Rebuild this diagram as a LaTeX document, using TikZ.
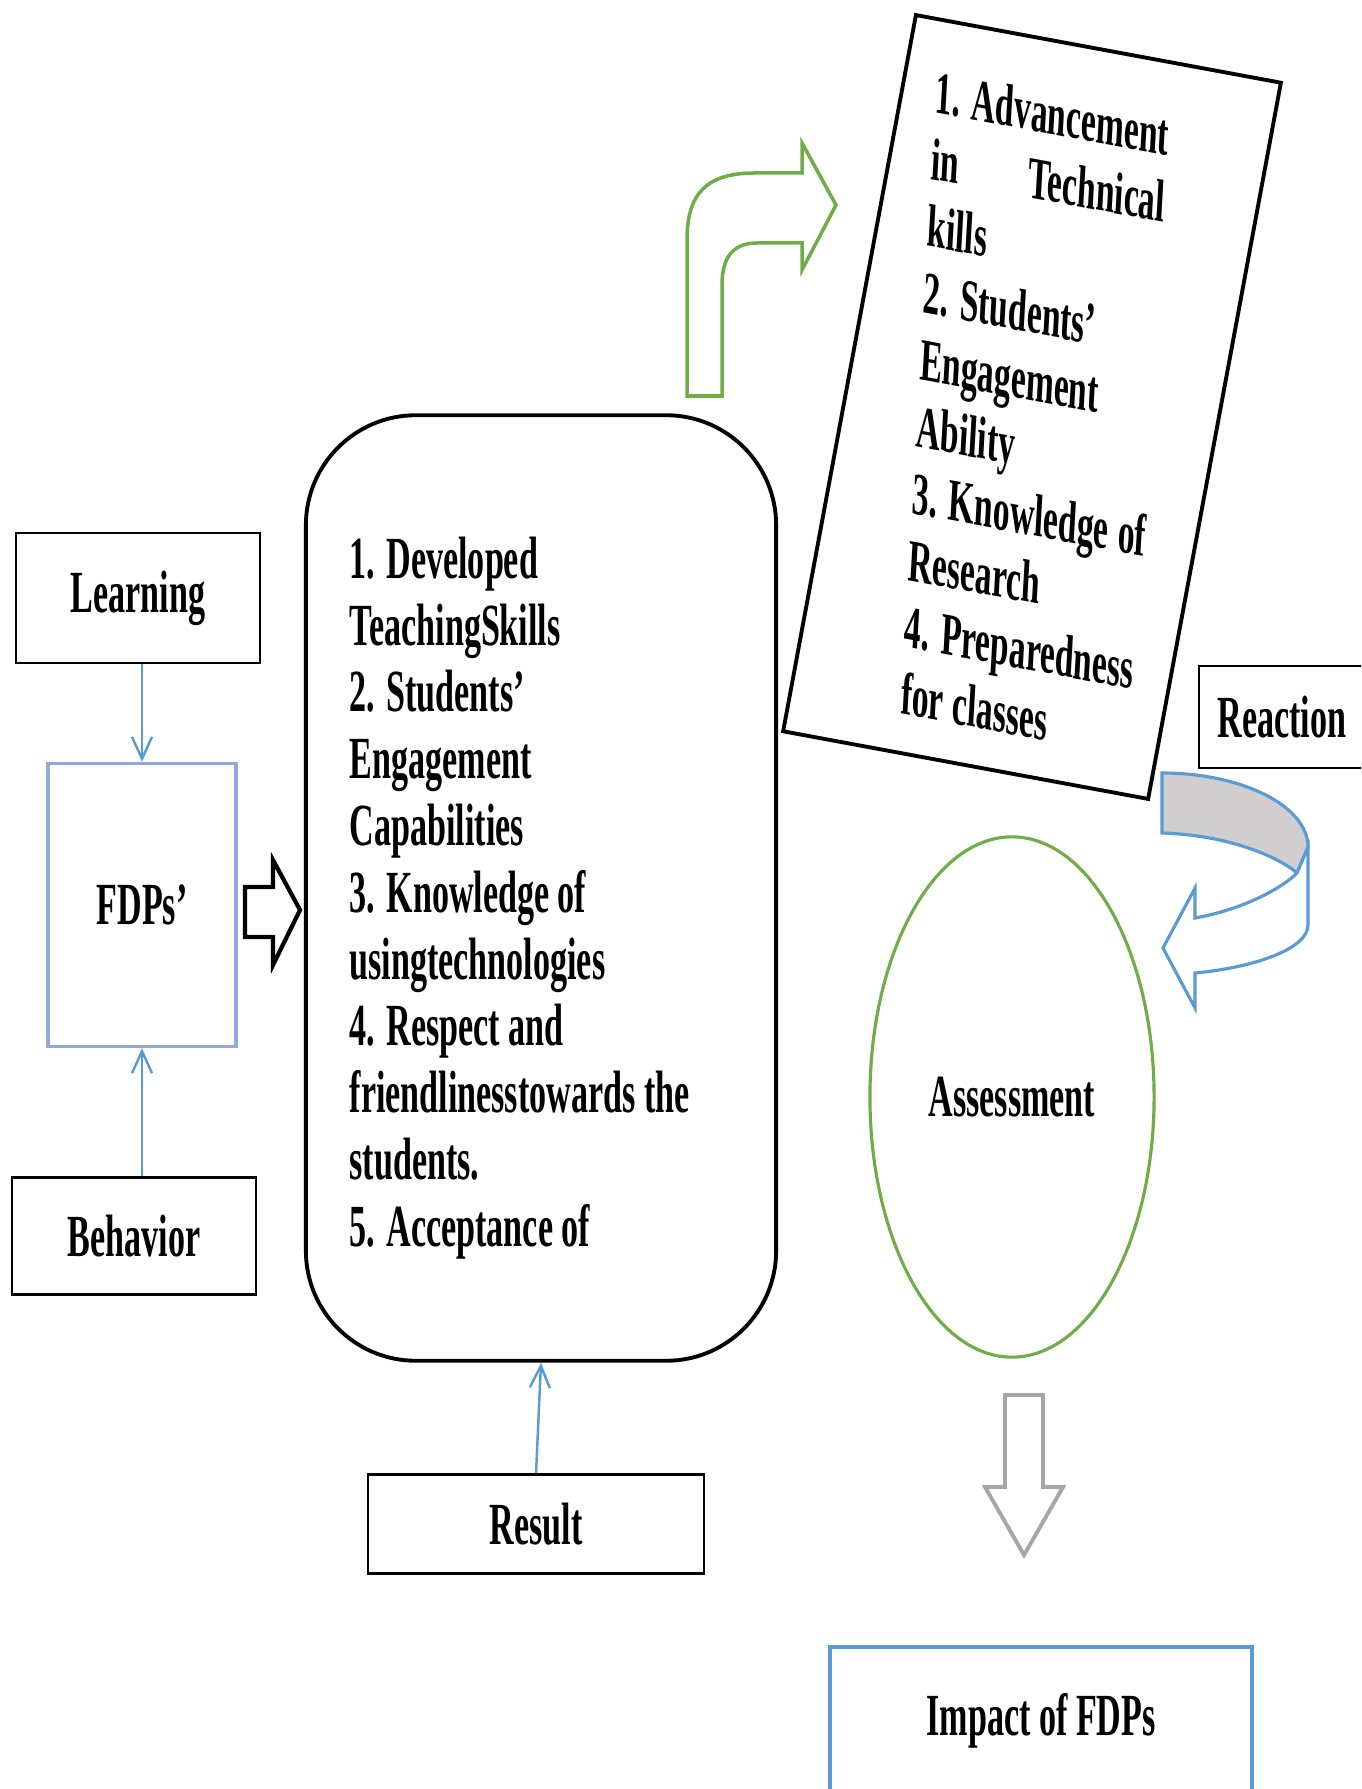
\documentclass[tikz,border=0pt]{standalone}
\usepackage{fontspec}
\setmainfont{Liberation Serif}[FakeStretch=0.57,BoldFont={Liberation Serif Bold}]
\usepackage{tikz}
\usetikzlibrary{arrows.meta,shapes.geometric}
\definecolor{lineblue}{RGB}{91,155,213}
\definecolor{boxblue}{RGB}{142,170,219}
\definecolor{arrgreen}{RGB}{112,173,71}
\definecolor{arrgray}{RGB}{166,166,166}
\definecolor{bandgray}{RGB}{208,206,206}
\newlength\gainwd

\begin{document}
\begin{tikzpicture}[x=0.01cm,y=-0.01cm,
  every node/.style={font=\fontsize{17}{19}\selectfont\bfseries},
  blk/.style={draw,line width=0.6pt,inner sep=0pt},
  conn/.style={draw=lineblue,line width=0.7pt,-{Straight Barb[length=2.2mm,width=2mm]}}]
\useasboundingbox (0,0) rectangle (1361,1789);
\clip (0,0) rectangle (1361,1789);

\node[blk,minimum width=2.44cm,minimum height=1.3cm] (learn) at (138,598) {Learning};
\node[blk,draw=boxblue,line width=0.9pt,minimum width=1.88cm,minimum height=2.83cm] (fdp) at (142,905) {FDPs’};
\node[blk,minimum width=2.44cm,minimum height=1.17cm] (beh) at (134,1236) {Behavior};
\draw[conn] (learn.south -| fdp.north) -- (fdp.north);
\draw[conn] (beh.north -| fdp.south) -- (fdp.south);

\draw[line width=1.2pt,fill=white] (245,887) -- (273,887) -- (273,860) -- (300,910)
  -- (273,965) -- (273,937) -- (245,937) -- cycle;

\node[draw,line width=1.1pt,rounded corners=1.1cm,minimum width=4.7cm,minimum height=9.45cm] (main) at (541,888) {};
\node[anchor=north west,inner sep=0pt,align=left] (mainlist) at (349,536) {1. Developed\\TeachingSkills\\2. Students’\\Engagement\\Capabilities\\3. Knowledge of\\usingtechnologies\\4. Respect and\\friendlinesstowards the\\students.\\5. Acceptance of};

\node[blk,minimum width=3.36cm,minimum height=0.99cm] (res) at (536,1524) {Result};
\draw[conn] (res.north) -- (main.south);

%\draw[arrgreen] (687,396) -- (687,173);
\draw[arrgreen,line width=1pt,fill=white] (687,396) -- (687,240) .. controls (687,195) and (705,173) .. (755,173)
  -- (802,173) -- (802,143) -- (836,205) -- (802,270) -- (802,243) -- (757,243)
  .. controls (735,243) and (722,255) .. (722,285) -- (722,396) -- cycle;

\node[draw,line width=1.1pt,rotate=-10.5,minimum width=3.71cm,minimum height=7.28cm] (gain) at (1032,407) {};
\node[cm={0.983,-0.182,0.057,1,(0,0)},anchor=north west,inner sep=0pt,align=left] (gainlist) at (936,70)
  {\settowidth\gainwd{1. Advancement}\global\gainwd=\gainwd 1. Advancement\\\hbox to\gainwd{in\hfill Technical}\\kills\\2. Students’\\Engagement\\Ability\\\hbox to\gainwd{3. Knowledge\hfill of}\\Research\\4. Preparedness\\for classes};

\node[blk,minimum width=1.66cm,minimum height=1.02cm] (react) at (1282,717) {Reaction};

\draw[lineblue,line width=0.9pt,fill=bandgray] (1162,773) .. controls (1242,773) and (1308,806) .. (1308,847)
  -- (1297,873) .. controls (1280,858) and (1230,835) .. (1162,833) -- cycle;
\draw[lineblue,line width=0.9pt,fill=white] (1297,873) -- (1308,847) -- (1308,925)
  .. controls (1308,950) and (1250,968) .. (1195,973) -- (1195,1008) -- (1163,948) -- (1195,888)
  -- (1195,918) .. controls (1240,910) and (1280,890) .. (1297,873) -- cycle;

\node[ellipse,draw=arrgreen,line width=0.9pt,minimum width=2.84cm,minimum height=5.2cm,inner sep=0pt] (assess) at (1012,1097) {Assessment};

\draw[arrgray,line width=1.1pt,fill=white] (1005,1395) -- (1043,1395) -- (1043,1487) -- (1063,1487)
  -- (1024,1555) -- (985,1487) -- (1005,1487) -- cycle;

\node[blk,draw=lineblue,line width=1.1pt,minimum width=4.22cm,minimum height=1.48cm] (impact) at (1041,1721) {Impact of FDPs};
\end{tikzpicture}
\end{document}
